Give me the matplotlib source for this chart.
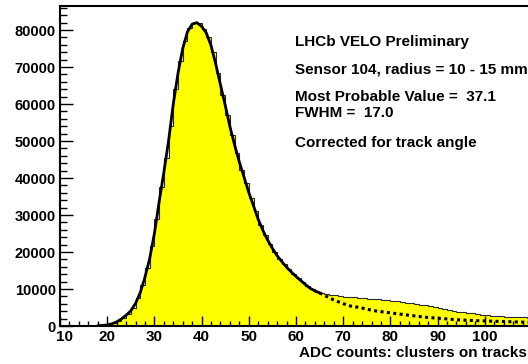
import numpy as np
import matplotlib
matplotlib.use('Agg')
from matplotlib import pyplot as plt
from matplotlib.ticker import MultipleLocator
from matplotlib.transforms import ScaledTranslation

plt.rcParams['font.family'] = ['Liberation Sans', 'DejaVu Sans']
plt.rcParams['font.weight'] = 'bold'

# ADC spectrum, 1-count bins from 10 to 110
bin_edges = np.arange(10, 111, 1)
counts = [
    0, 0, 0, 0, 10, 20, 30, 50, 80, 150,
    400, 800, 1450, 2200, 3300, 4800, 7500, 11000, 15800, 21500,
    29000, 37500, 45500, 54000, 64000, 71500, 77000, 80500, 82000, 81800,
    80400, 78000, 74200, 68300, 62500, 57000, 51500, 46800, 42200, 38600,
    34500, 31000, 27400, 24600, 22200, 20000, 18200, 16700, 15300, 14100,
    12900, 11800, 10800, 10000, 9300, 8800, 8600, 8450, 8350, 8100,
    7950, 7850, 7750, 7600, 7500, 7400, 7300, 7200, 7100, 6950,
    6850, 6700, 6550, 6350, 6150, 5950, 5800, 5650, 5450, 5200,
    4950, 4700, 4400, 4150, 3900, 3750, 3600, 3450, 3250, 3050,
    2900, 2800, 2700, 2600, 2550, 2450, 2400, 2350, 2300, 2250,
]

# Landau (x) Gauss fit, solid over the fit range and dotted beyond
fit_x = np.arange(18, 111, 1)
fit_y = [
    80, 150, 270, 600, 1100, 1900, 2900, 4100, 6100, 9000,
    13200, 18200, 25000, 33500, 41500, 50000, 60000, 68300, 75000, 79500,
    81600, 82000, 81000, 79200, 75800, 70800, 65200, 59700, 53900, 48900,
    44300, 40200, 36100, 32500, 28800, 25800, 23200, 21000, 19000, 17400,
    15900, 14600, 13400, 12300, 11200, 10200, 9500, 8950, 8300, 7650,
    7050, 6550, 6050, 5600, 5250, 5100, 4850, 4550, 4280, 4050,
    3880, 3720, 3550, 3380, 3220, 3060, 2900, 2750, 2580, 2420,
    2300, 2200, 2100, 2000, 1900, 1800, 1700, 1630, 1570, 1510,
    1460, 1410, 1370, 1330, 1290, 1250, 1210, 1170, 1130, 1090,
    1050, 1010, 980,
]
fit_end = 65

fig = plt.figure(figsize=(5.28, 3.64), dpi=100)
ax = fig.add_axes([60 / 528, 1 - 326 / 364, 472 / 528, 320 / 364])

ax.stairs(counts, bin_edges, fill=True, color='#ffff00', zorder=1)
ax.stairs(counts, bin_edges, color='#2a2a2a', lw=0.8, zorder=2)

fit_x = np.asarray(fit_x)
fit_y = np.asarray(fit_y)
solid = fit_x <= fit_end
dotted = fit_x >= fit_end
ax.plot(fit_x[solid], fit_y[solid], color='black', lw=2.0, zorder=3,
        solid_capstyle='round')
ax.plot(fit_x[dotted], fit_y[dotted], color='black', lw=2.2,
        linestyle=(0, (1.0, 1.1)), zorder=3)

ax.set_xlim(10, 110)
ax.set_ylim(0, 86500)

ax.set_xticks([10, 20, 30, 40, 50, 60, 70, 80, 90, 100])
ax.xaxis.set_minor_locator(MultipleLocator(2))
ax.yaxis.set_major_locator(MultipleLocator(10000))
ax.yaxis.set_minor_locator(MultipleLocator(2000))

ax.tick_params(axis='x', which='major', direction='in', length=7.2,
               width=1.0, pad=3.0, labelsize=11)
ax.tick_params(axis='x', which='minor', direction='in', length=3.6,
               width=1.0)
ax.tick_params(axis='y', which='major', direction='in', length=9.4,
               width=1.0, pad=3.0, labelsize=10.5)
ax.tick_params(axis='y', which='minor', direction='in', length=5.0,
               width=1.0)

for side in ['left', 'bottom', 'top', 'right']:
    ax.spines[side].set_linewidth(1.5)

# shift the first x label right and the y zero up so they sit apart
fig.canvas.draw()
xlab0 = ax.xaxis.get_major_ticks()[0].label1
xlab0.set_transform(xlab0.get_transform() +
                    ScaledTranslation(3 / 72, 0, fig.dpi_scale_trans))
ylab0 = ax.yaxis.get_major_ticks()[0].label1
ylab0.set_transform(ylab0.get_transform() +
                    ScaledTranslation(0, 2 / 72, fig.dpi_scale_trans))

fig.text(527 / 528, 1 - 353 / 364, 'ADC counts: clusters on tracks',
         ha='right', va='center', fontsize=11, fontweight='bold')

notes = [
    ('LHCb VELO Preliminary', 41.7),
    ('Sensor 104, radius = 10 - 15 mm', 69.0),
    ('Most Probable Value =  37.1', 96.7),
    ('FWHM =  17.0', 112.7),
    ('Corrected for track angle', 143.0),
]
for txt, ypx in notes:
    fig.text(295 / 528, 1 - ypx / 364, txt, ha='left', va='center',
             fontsize=11, fontweight='bold')

fig.savefig('out.png', dpi=100)
